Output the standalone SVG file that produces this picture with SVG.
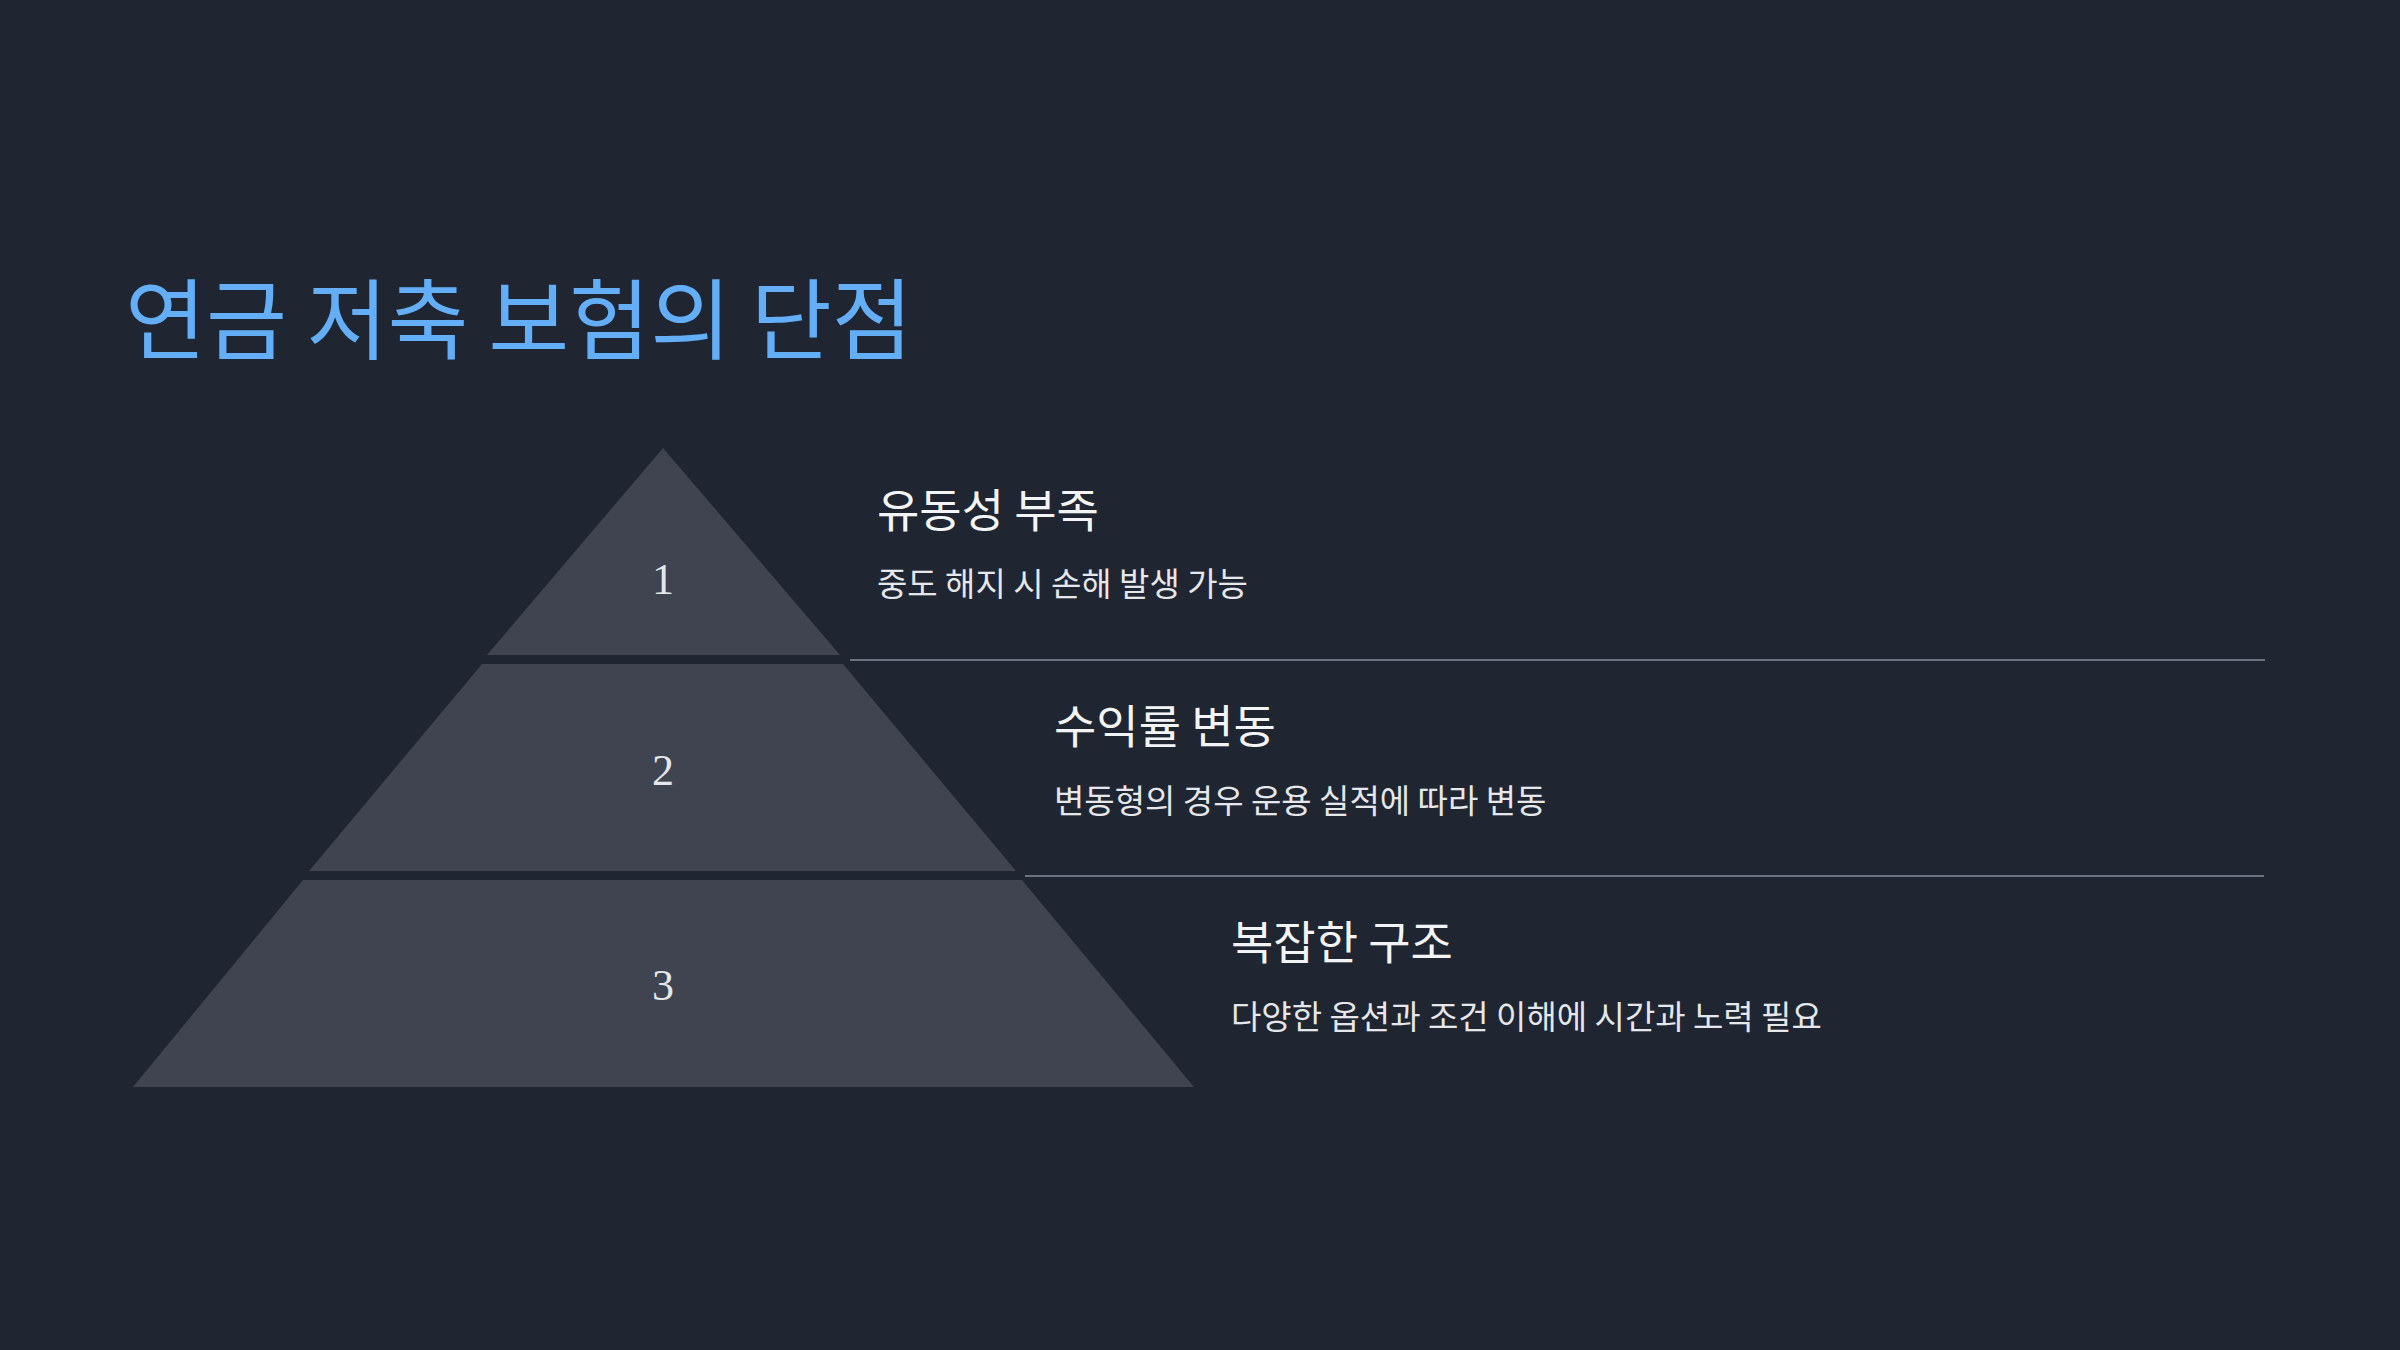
<svg xmlns="http://www.w3.org/2000/svg" width="2400" height="1350" viewBox="0 0 2400 1350">
<style>
.tier{fill:#3f4450}
.num{font-family:"Liberation Serif","Noto Serif",serif;font-size:44px;fill:#e5e7eb;text-anchor:middle}
.h{font-family:"Noto Sans CJK KR",sans-serif;font-size:46px;fill:#f3f4f6}
.d{font-family:"Noto Sans CJK KR",sans-serif;font-size:33px;fill:#e5e7eb}
.sep{stroke:#6b7280;stroke-width:2}
</style>
<rect width="2400" height="1350" fill="#1f2531"/>
<text x="125" y="352" font-family="Noto Sans CJK KR, sans-serif" font-size="88" fill="#63aef7">연금 저축 보험의 단점</text>
<g id="tier1"><polygon class="tier" points="663,448 840,655 487,655"/><text class="num" x="663" y="594">1</text></g>
<g id="tier2"><polygon class="tier" points="482,664 843,664 1016,871 309,871"/><text class="num" x="663" y="785">2</text></g>
<g id="tier3"><polygon class="tier" points="303,880 1022,880 1194,1087 133,1087"/><text class="num" x="663" y="1000">3</text></g>
<g id="connectors">
<line class="sep" x1="850" y1="660" x2="2265" y2="660"/>
<line class="sep" x1="1025" y1="876" x2="2264" y2="876"/>
</g>
<g id="item1"><text class="h" x="877" y="527">유동성 부족</text><text class="d" x="877" y="596">중도 해지 시 손해 발생 가능</text></g>
<g id="item2"><text class="h" x="1054" y="743">수익률 변동</text><text class="d" x="1054" y="813">변동형의 경우 운용 실적에 따라 변동</text></g>
<g id="item3"><text class="h" x="1231" y="959">복잡한 구조</text><text class="d" x="1231" y="1029">다양한 옵션과 조건 이해에 시간과 노력 필요</text></g>
</svg>
